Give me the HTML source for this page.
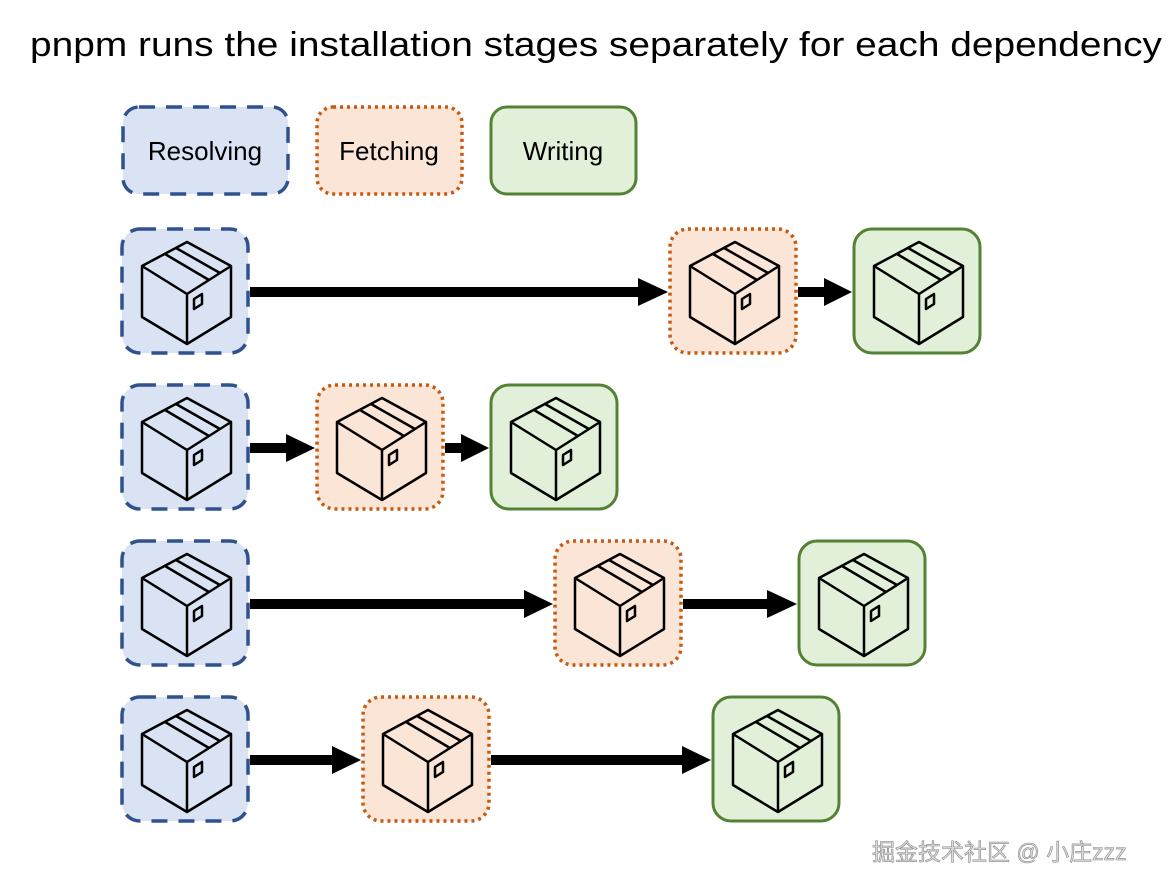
<!DOCTYPE html>
<html><head><meta charset="utf-8"><style>body{margin:0;background:#fff}svg{display:block}</style></head><body>
<svg width="1168" height="888" xmlns="http://www.w3.org/2000/svg" font-family="Liberation Sans, Noto Sans CJK SC, sans-serif">
<defs>
<g id="cube" fill="none" stroke="#000" stroke-width="2.5" stroke-linejoin="round">
<path d="M67 15 L111 39 L111 90 L67 117 L22 90 L22 39 Z"/>
<path d="M22 39 L67 67 L111 39 M67 67 L67 117"/>
<path d="M45 27 L89 53 M56 21 L100 46"/>
<path d="M74 72 L82 67 L82 77 L74 82 Z"/>
</g>
<g id="R"><rect x="2" y="2" width="126" height="124" rx="18" fill="#dae3f3" stroke="#2f528f" stroke-width="3.5" stroke-dasharray="16 11"/><use href="#cube"/></g>
<g id="F"><rect x="2" y="2" width="126" height="124" rx="18" fill="#fbe5d6" stroke="#c55a11" stroke-width="3.5" stroke-dasharray="3 4"/><use href="#cube"/></g>
<g id="W"><rect x="2" y="2" width="126" height="124" rx="18" fill="#e2f0d9" stroke="#548235" stroke-width="3"/><use href="#cube"/></g>
</defs>
<text x="30" y="56" font-size="34" textLength="1132" lengthAdjust="spacingAndGlyphs">pnpm runs the installation stages separately for each dependency</text>
<rect x="123" y="107" width="165" height="87" rx="16" fill="#dae3f3" stroke="#2f528f" stroke-width="3.5" stroke-dasharray="16 11"/>
<text x="205" y="160" font-size="26" text-anchor="middle">Resolving</text>
<rect x="317" y="107" width="145" height="87" rx="16" fill="#fbe5d6" stroke="#c55a11" stroke-width="3.5" stroke-dasharray="3 4"/>
<text x="389" y="160" font-size="26" text-anchor="middle">Fetching</text>
<rect x="491" y="107" width="145" height="87" rx="16" fill="#e2f0d9" stroke="#548235" stroke-width="3"/>
<text x="563" y="160" font-size="26" text-anchor="middle">Writing</text>
<g fill="#000">
<use href="#R" x="120" y="227"/><use href="#F" x="668" y="227"/><use href="#W" x="852" y="227"/>
<rect x="250" y="287" width="390" height="10"/><path d="M638 278 L668 292 L638 306Z"/>
<rect x="798" y="287" width="28" height="10"/><path d="M824 278 L852 292 L824 306Z"/>
<use href="#R" x="120" y="383"/><use href="#F" x="315" y="383"/><use href="#W" x="489" y="383"/>
<rect x="250" y="443" width="38" height="10"/><path d="M286 434 L315 448 L286 462Z"/>
<rect x="445" y="443" width="18" height="10"/><path d="M461 434 L489 448 L461 462Z"/>
<use href="#R" x="120" y="539"/><use href="#F" x="553" y="539"/><use href="#W" x="797" y="539"/>
<rect x="250" y="599" width="276" height="10"/><path d="M524 590 L553 604 L524 618Z"/>
<rect x="683" y="599" width="86" height="10"/><path d="M767 590 L797 604 L767 618Z"/>
<use href="#R" x="120" y="695"/><use href="#F" x="361" y="695"/><use href="#W" x="711" y="695"/>
<rect x="250" y="755" width="84" height="10"/><path d="M332 746 L361 760 L332 774Z"/>
<rect x="491" y="755" width="193" height="10"/><path d="M682 746 L711 760 L682 774Z"/>
</g>
<text x="872" y="860" font-size="23" fill="#ddd" stroke="#888" stroke-width="0.6">掘金技术社区 @ 小庄zzz</text>
</svg>
</body></html>
